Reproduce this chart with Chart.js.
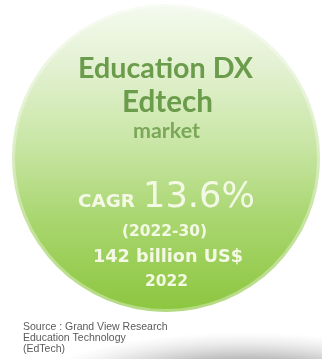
<!DOCTYPE html>
<html>
<head>
<meta charset="utf-8">
<script src="https://cdn.jsdelivr.net/npm/chart.js@4.4.1/dist/chart.umd.min.js"></script>
<style>
  html, body { margin: 0; padding: 0; background: #ffffff; }
  #wrap { position: relative; width: 322px; height: 359px; }
  canvas { display: block; }
</style>
</head>
<body>
<div id="wrap"><canvas id="chart" width="322" height="359"></canvas></div>
<script>
// Market figures for the Education DX / EdTech bubble
const categories = ['Education DX Edtech market'];
const marketSizeBillionUSD = [142];
const baseYear = ['2022'];
const cagrPercent = [13.6];
const cagrPeriod = ['2022', '30'];
const titleLines = ['Education DX', 'Edtech', 'market'];
const sourceLines = ['Source : Grand View Research', 'Education Technology', '(EdTech)'];

// Font size that makes a string span a given width
function fitSize(ctx, text, weight, family, width) {
  ctx.font = weight + ' 100px ' + family;
  return 100 * width / ctx.measureText(text).width;
}
function drawFitted(ctx, text, weight, family, width, x, y, color, align) {
  const size = fitSize(ctx, text, weight, family, width);
  ctx.font = weight + ' ' + size.toFixed(2) + 'px ' + family;
  ctx.fillStyle = color;
  ctx.textAlign = align || 'center';
  ctx.textBaseline = 'alphabetic';
  ctx.fillText(text, x, y);
}

// Soft floor shadow beneath the bubble
const floorShadow = {
  id: 'floorShadow',
  beforeDraw(chart) {
    const ctx = chart.ctx;
    ctx.save();
    ctx.translate(245, 388);
    ctx.scale(1, 0.26);
    const g = ctx.createRadialGradient(0, 0, 0, 0, 0, 215);
    g.addColorStop(0, 'rgba(100,100,100,0.75)');
    g.addColorStop(0.55, 'rgba(140,140,140,0.55)');
    g.addColorStop(1, 'rgba(200,200,200,0)');
    ctx.fillStyle = g;
    ctx.beginPath();
    ctx.arc(0, 0, 215, 0, Math.PI * 2);
    ctx.fill();
    ctx.restore();
  }
};

// Light inner rim around the bubble
const bubbleRim = {
  id: 'bubbleRim',
  afterDatasetsDraw(chart) {
    const arc = chart.getDatasetMeta(0).data[0];
    if (!arc) return;
    const ctx = chart.ctx;
    ctx.save();
    ctx.strokeStyle = 'rgba(255,255,255,0.35)';
    ctx.lineWidth = 3;
    ctx.beginPath();
    ctx.arc(arc.x, arc.y, arc.outerRadius - 1.5, 0, Math.PI * 2);
    ctx.stroke();
    ctx.restore();
  }
};

// Labels inside the bubble and the source note
const bubbleText = {
  id: 'bubbleText',
  afterDraw(chart) {
    const ctx = chart.ctx;
    ctx.save();
    const title = '"Lato", "Noto Sans", sans-serif';
    const green = '#6b9c4b';
    drawFitted(ctx, titleLines[0], 'bold', title, 175, 165.5, 78, green);
    drawFitted(ctx, titleLines[1], 'bold', title, 91, 167.5, 112, green);
    drawFitted(ctx, titleLines[2], 'bold', title, 67, 166.5, 138, '#7aa858');

    const cream = '#f4f9e6';
    const num = '"DejaVu Sans", sans-serif';
    drawFitted(ctx, 'CAGR', 'bold', num, 57, 78, 207, cream, 'left');
    drawFitted(ctx, cagrPercent[0].toFixed(1) + '%', 'normal', num, 112, 143, 207, cream, 'left');
    drawFitted(ctx, '(' + cagrPeriod[0] + '-' + cagrPeriod[1] + ')', 'bold', num, 85, 164.5, 236, cream);
    drawFitted(ctx, marketSizeBillionUSD[0] + ' billion US$', 'bold', num, 150, 168, 262, cream);
    drawFitted(ctx, baseYear[0], 'bold', num, 43, 166.5, 286, cream);

    ctx.font = '10.5px "Liberation Sans", Arial, sans-serif';
    ctx.fillStyle = '#5a5a5a';
    ctx.textAlign = 'left';
    sourceLines.forEach((line, i) => ctx.fillText(line, 23, 330 + i * 11));
    ctx.restore();
  }
};

new Chart(document.getElementById('chart'), {
  type: 'pie',
  data: {
    labels: categories,
    datasets: [{
      data: marketSizeBillionUSD,
      borderWidth: 0,
      backgroundColor(context) {
        const { chart } = context;
        const area = chart.chartArea;
        if (!area) return '#a8d46e';
        const g = chart.ctx.createLinearGradient(0, area.top, 0, area.bottom);
        g.addColorStop(0, '#f5faef');
        g.addColorStop(0.2, '#e3f1d2');
        g.addColorStop(0.45, '#c9e6a6');
        g.addColorStop(0.7, '#a9d66f');
        g.addColorStop(1, '#8cc63e');
        return g;
      }
    }]
  },
  options: {
    responsive: false,
    animation: false,
    layout: { padding: { left: 12, right: 2, top: 4, bottom: 47 } },
    plugins: {
      legend: { display: false },
      tooltip: { enabled: false }
    }
  },
  plugins: [floorShadow, bubbleRim, bubbleText]
});
</script>
</body>
</html>
